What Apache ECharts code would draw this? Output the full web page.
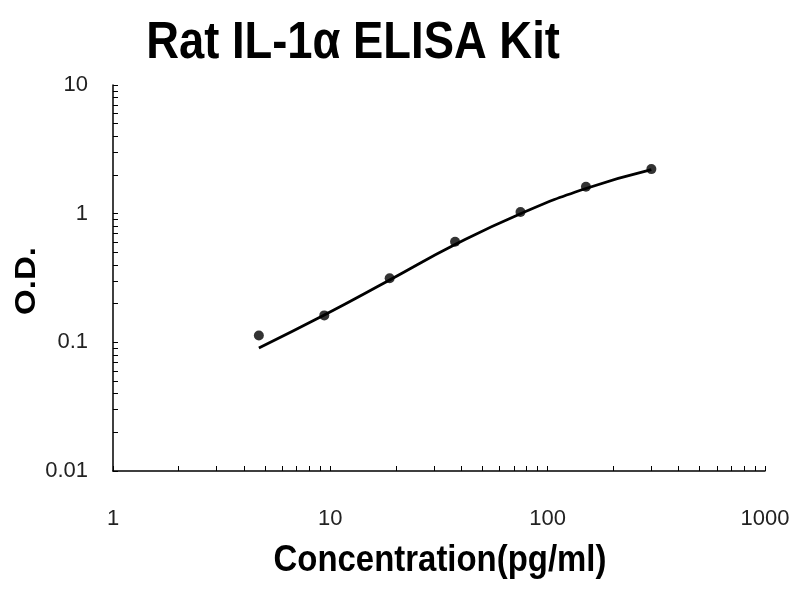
<!DOCTYPE html>
<html><head><meta charset="utf-8">
<script src="https://cdn.jsdelivr.net/npm/echarts@6/dist/echarts.min.js"></script>
<style>html,body{margin:0;padding:0;background:#fff}#c{width:800px;height:600px}</style>
</head><body><div id="c"></div>
<script>
const concentrations = [4.69, 9.38, 18.75, 37.5, 75, 150, 300];
const odValues = [0.113, 0.162, 0.315, 0.605, 1.03, 1.62, 2.22];
const fitValues = [0.0905, 0.163, 0.305, 0.575, 1.0, 1.57, 2.2];
const xTicks = [1, 10, 100, 1000];
const yTicks = [0.01, 0.1, 1, 10];
const titleText = 'Rat IL-1α ELISA Kit';
const xName = 'Concentration(pg/ml)';
const yName = 'O.D.';

const chart = echarts.init(document.getElementById('c'));
const font = 'Arial, "Liberation Sans", sans-serif';
const squeeze = 0.89;
chart.setOption({
  animation: false,
  backgroundColor: '#fff',
  graphic: [
    {type: 'text', x: 353, y: 44, scaleX: squeeze,
     style: {text: titleText, font: 'bold 51px ' + font, fill: '#000', align: 'center', verticalAlign: 'middle'}},
    {type: 'text', x: 440, y: 561, scaleX: squeeze,
     style: {text: xName, font: 'bold 37px ' + font, fill: '#000', align: 'center', verticalAlign: 'middle'}},
    {type: 'text', x: 27, y: 281, rotation: Math.PI / 2, scaleY: squeeze,
     style: {text: yName, font: 'bold 33px ' + font, fill: '#000', align: 'center', verticalAlign: 'middle'}}
  ],
  grid: {left: 113, right: 35, top: 85, bottom: 129},
  xAxis: {
    type: 'log', logBase: 10, min: xTicks[0], max: xTicks[xTicks.length-1],
    axisLine: {lineStyle: {color: '#000', width: 1.5}},
    axisTick: {inside: true, length: 5, lineStyle: {color: '#000'}},
    minorTick: {show: true, splitNumber: 9, length: 5, lineStyle: {color: '#000'}},
    splitLine: {show: false},
    axisLabel: {margin: 37, fontFamily: font, fontSize: 22, color: '#222',
      formatter: v => String(v)}
  },
  yAxis: {
    type: 'log', logBase: 10, min: yTicks[0], max: yTicks[yTicks.length-1],
    axisLine: {show: true, lineStyle: {color: '#000', width: 1.5}},
    axisTick: {show: true, inside: true, length: 5, lineStyle: {color: '#000'}},
    minorTick: {show: true, splitNumber: 9, length: 5, lineStyle: {color: '#000'}},
    splitLine: {show: false},
    axisLabel: {margin: 25, fontFamily: font, fontSize: 22, color: '#222',
      formatter: v => String(v)}
  },
  series: [
    {type: 'line', smooth: true, showSymbol: false, silent: true,
     data: concentrations.map((c, i) => [c, fitValues[i]]),
     lineStyle: {color: '#000', width: 2.8}},
    {type: 'scatter', symbol: 'circle', symbolSize: 10,
     data: concentrations.map((c, i) => [c, odValues[i]]),
     itemStyle: {color: '#000'}}
  ]
});
</script></body></html>
